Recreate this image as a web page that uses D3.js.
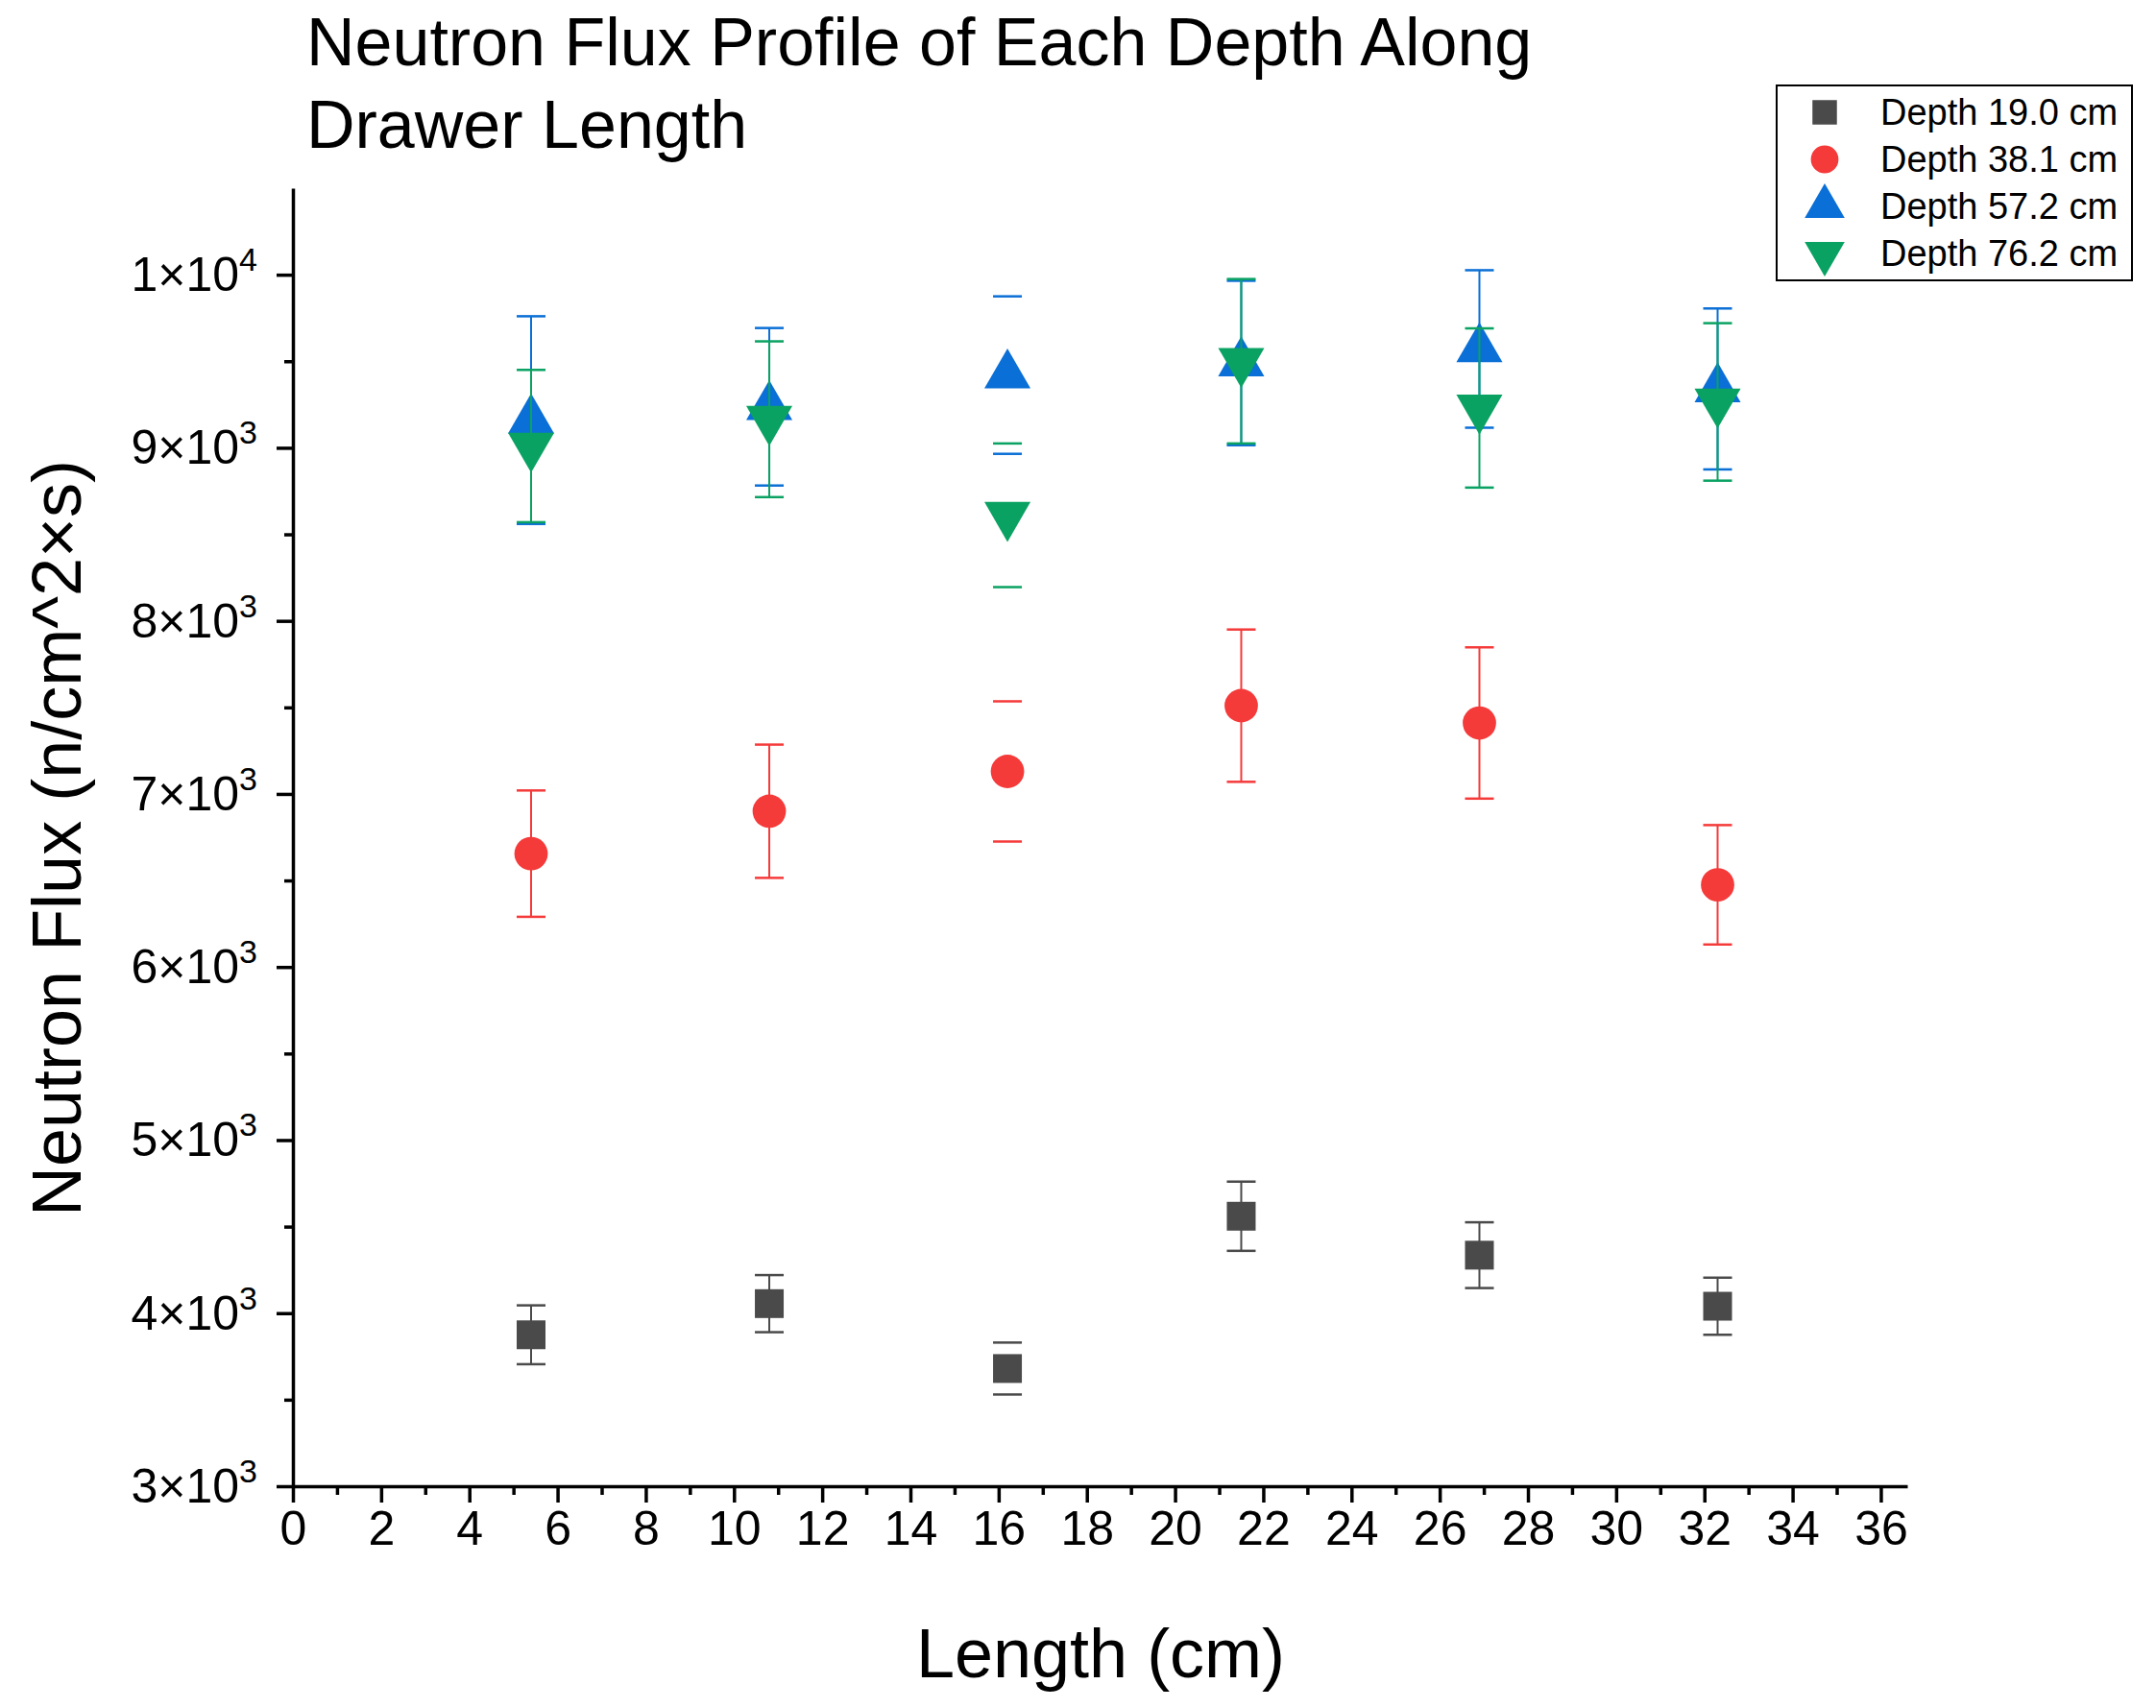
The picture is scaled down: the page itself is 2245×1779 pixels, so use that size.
<!DOCTYPE html>
<html><head><meta charset="utf-8">
<script src="https://cdn.jsdelivr.net/npm/d3@7"></script>
<style>body{margin:0;background:#fff}</style></head>
<body><svg id="c" width="2245" height="1779"></svg>
<script>
const xs = [5.4, 10.8, 16.2, 21.5, 26.9, 32.3];
const names = ["Depth 19.0 cm","Depth 38.1 cm","Depth 57.2 cm","Depth 76.2 cm"];
const v19 = [3875, 4055, 3680, 4560, 4335, 4040];
const e19 = [170, 165, 150, 200, 190, 165];
const v38 = [6655, 6900, 7130, 7510, 7410, 6475];
const e38 = [365, 385, 405, 440, 437, 345];
const v57 = [9160, 9237, 9420, 9490, 9571, 9340];
const e57 = [600, 455, 455, 475, 455, 465];
const v76 = [9010, 9165, 8610, 9500, 9230, 9265];
const e76 = [440, 450, 415, 475, 460, 455];
const hideLine = [false,false,true,false,false,false];
const yTicks = [3,4,5,6,7,8,9,10];
const colors = ["#4a4a4a","#f53a3a","#0a6fd6","#0aa262"];
const shapes = [d3.symbolSquare, d3.symbolCircle, d3.symbolTriangle, d3.symbolTriangle];

const svg = d3.select("#c");
const L=305,R=1986,T=196,B=1548;
const x = d3.scaleLinear().domain([0,36.6]).range([L,R]);
const y = d3.scaleLinear().domain([3000,10500]).range([B,T]);
const font="Arial, 'Liberation Sans', sans-serif";

const xa = svg.append("g").attr("transform",`translate(0,${B})`)
 .call(d3.axisBottom(x).tickValues(d3.range(0,37,2)).tickSize(17).tickSizeOuter(0).tickPadding(8));
xa.selectAll("text").attr("font-size",50).attr("font-family",font).attr("fill","#000");
svg.append("g").attr("transform",`translate(0,${B})`)
 .call(d3.axisBottom(x).tickValues(d3.range(1,37,2)).tickSize(9).tickFormat(""))
 .select(".domain").remove();
svg.append("g").attr("transform",`translate(${L},0)`)
 .call(d3.axisLeft(y).tickValues(yTicks.map(d=>d*1000)).tickSize(17).tickSizeOuter(0).tickFormat(""));
svg.append("g").attr("transform",`translate(${L},0)`)
 .call(d3.axisLeft(y).tickValues(d3.range(3500,10500,1000)).tickSize(9).tickFormat(""))
 .select(".domain").remove();
svg.selectAll(".domain, .tick line").attr("stroke","#000").attr("stroke-width",3.5);
yTicks.forEach(t=>{
  const tx = svg.append("text").attr("x",268).attr("y",y(t*1000)+17).attr("text-anchor","end")
    .attr("font-size",50).attr("font-family",font);
  tx.append("tspan").text(t===10?"1×10":t+"×10");
  tx.append("tspan").attr("dy",-21).attr("font-size",34).text(t===10?"4":"3");
});

const series=[[v19,e19],[v38,e38],[v57,e57],[v76,e76]];
series.forEach(([v,e],si)=>{
  const g = svg.append("g");
  const c = colors[si];
  xs.forEach((xv,i)=>{
    const cx=x(xv), hi=y(v[i]+e[i]), lo=y(v[i]-e[i]);
    if(!hideLine[i]) g.append("line").attr("x1",cx).attr("x2",cx).attr("y1",hi).attr("y2",lo).attr("stroke",c).attr("stroke-width",2);
    [hi,lo].forEach(yy=>g.append("line").attr("x1",cx-15).attr("x2",cx+15).attr("y1",yy).attr("y2",yy).attr("stroke",c).attr("stroke-width",2.5));
  });
  const sizes=[900,950,1000,1000];
  g.selectAll("path").data(xs).join("path")
    .attr("d",d3.symbol().type(shapes[si]).size(sizes[si]))
    .attr("transform",(d,i)=>`translate(${x(d)},${y(v[i])})${si===3?" rotate(180)":""}`)
    .attr("fill",c);
});

const lg = svg.append("g");
lg.append("rect").attr("x",1850).attr("y",89).attr("width",370).attr("height",203).attr("fill","#fff").attr("stroke","#000").attr("stroke-width",2);
names.forEach((n,i)=>{
  const yy=117+i*49;
  lg.append("path").attr("d",d3.symbol().type(shapes[i]).size(i<2?650:750)())
    .attr("transform",`translate(1900,${yy})${i===3?" rotate(180)":""}`).attr("fill",colors[i]);
  lg.append("text").attr("x",1958).attr("y",yy+13).attr("font-size",38).attr("font-family",font).text(n);
});

svg.append("text").attr("x",319).attr("y",68).attr("font-size",70).attr("font-family",font).text("Neutron Flux Profile of Each Depth Along");
svg.append("text").attr("x",319).attr("y",154).attr("font-size",70).attr("font-family",font).text("Drawer Length");
svg.append("text").attr("x",1146).attr("y",1747).attr("text-anchor","middle").attr("font-size",72).attr("font-family",font).text("Length (cm)");
svg.append("text").attr("transform","translate(84,873) rotate(-90)").attr("text-anchor","middle").attr("font-size",72).attr("font-family",font).text("Neutron Flux (n/cm^2×s)");
</script></body></html>
